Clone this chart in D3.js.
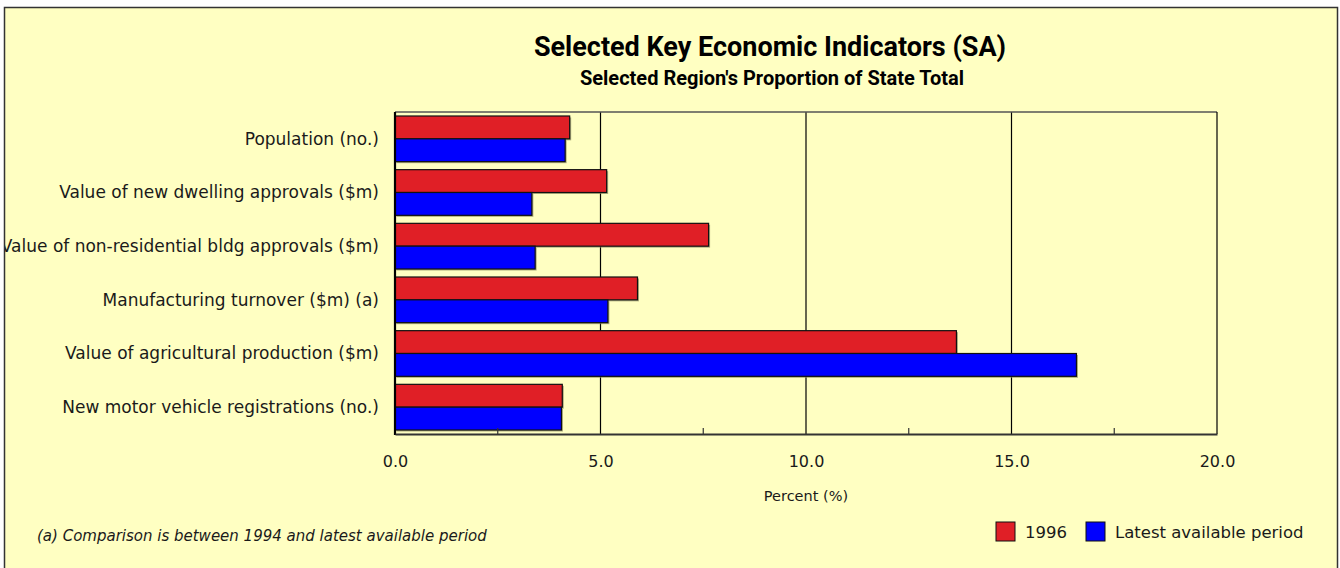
<!DOCTYPE html>
<html>
<head>
<meta charset="utf-8">
<script src="https://cdn.jsdelivr.net/npm/d3@7"></script>
<style>
  body { margin: 0; background: #fff; }
  text { font-family: "DejaVu Sans", Verdana, sans-serif; fill: #1a1a1a; }
  .title { font-family: Roboto, "Liberation Sans", Arial, sans-serif; font-weight: bold; fill: #000; }
</style>
</head>
<body>
<script>
var width = 1340;
var height = 568;

// data
var categories = [
  "Population (no.)",
  "Value of new dwelling approvals ($m)",
  "Value of non-residential bldg approvals ($m)",
  "Manufacturing turnover ($m) (a)",
  "Value of agricultural production ($m)",
  "New motor vehicle registrations (no.)"
];
var seriesNames = ["1996", "Latest available period"];
var values1996 = [4.25, 5.15, 7.63, 5.90, 13.66, 4.07];
var valuesLatest = [4.14, 3.33, 3.41, 5.18, 16.58, 4.05];
var xTicks = [0, 5, 10, 15, 20];
var minorTicks = [2.5, 7.5, 12.5, 17.5];
var colors = ["#e01f26", "#0000ff"];

var plot = { left: 395, right: 1217, top: 112, bottom: 434 };

var svg = d3.select("body").append("svg")
  .attr("width", width)
  .attr("height", height);

svg.append("clipPath").attr("id", "frameClip")
  .append("rect")
  .attr("x", 5).attr("y", 8)
  .attr("width", 1332).attr("height", 580);

// chart frame background
svg.append("rect")
  .attr("x", 4.5).attr("y", 7.5)
  .attr("width", 1333).attr("height", 580)
  .style("fill", "#ffffc2");

var chart = svg.append("g").attr("clip-path", "url(#frameClip)");

chart.append("text")
  .attr("class", "title")
  .attr("x", 770).attr("y", 56)
  .attr("text-anchor", "middle")
  .style("font-size", "27px")
  .text("Selected Key Economic Indicators (SA)");

chart.append("text")
  .attr("class", "title")
  .attr("x", 772).attr("y", 85)
  .attr("text-anchor", "middle")
  .style("font-size", "20px")
  .text("Selected Region's Proportion of State Total");

var x = d3.scaleLinear().domain([0, 20]).range([plot.left, plot.right]);
var y = d3.scaleBand().domain(categories).range([plot.top, plot.bottom]);
var inner = d3.scaleBand().domain(seriesNames).range([4, y.bandwidth() - 4]);

// grid lines
chart.selectAll(".grid")
  .data(xTicks.slice(1, -1))
.enter().append("line")
  .attr("x1", function (d) { return x(d); })
  .attr("x2", function (d) { return x(d); })
  .attr("y1", plot.top).attr("y2", plot.bottom)
  .style("stroke", "#000").style("stroke-width", 1.2);

// plot border top/right
chart.append("line")
  .attr("x1", plot.left).attr("x2", plot.right)
  .attr("y1", plot.top).attr("y2", plot.top)
  .style("stroke", "#555").style("stroke-width", 1.5);
chart.append("line")
  .attr("x1", plot.right).attr("x2", plot.right)
  .attr("y1", plot.top).attr("y2", plot.bottom)
  .style("stroke", "#000").style("stroke-width", 1.2);

var rows = categories.map(function (c, i) {
  return { name: c, vals: [values1996[i], valuesLatest[i]] };
});

var group = chart.selectAll(".cat")
  .data(rows)
.enter().append("g")
  .attr("class", "cat")
  .attr("transform", function (d) { return "translate(0," + y(d.name) + ")"; });

// soft shadow under each bar
group.selectAll(".shadow")
  .data(function (d) { return d.vals; })
.enter().append("rect")
  .attr("x", x(0) + 1.5)
  .attr("y", function (d, i) { return inner(seriesNames[i]) + 1.5; })
  .attr("width", function (d) { return x(d) - x(0); })
  .attr("height", inner.bandwidth())
  .style("fill", "#8a8a60").style("opacity", 0.7);

group.selectAll(".bar")
  .data(function (d) { return d.vals; })
.enter().append("rect")
  .attr("class", "bar")
  .attr("x", x(0))
  .attr("y", function (d, i) { return inner(seriesNames[i]); })
  .attr("width", function (d) { return x(d) - x(0); })
  .attr("height", inner.bandwidth())
  .style("fill", function (d, i) { return colors[i]; })
  .style("stroke", "#111").style("stroke-width", 1.2);

group.append("text")
  .attr("x", 379)
  .attr("y", y.bandwidth() / 2 + 6)
  .attr("text-anchor", "end")
  .style("font-size", "17px")
  .text(function (d) { return d.name; });

// left axis line
chart.append("line")
  .attr("x1", plot.left).attr("x2", plot.left)
  .attr("y1", plot.top).attr("y2", plot.bottom + 1)
  .style("stroke", "#000").style("stroke-width", 2.2);

// bottom axis
var xAxis = d3.axisBottom(x)
  .tickValues(xTicks)
  .tickSize(0)
  .tickPadding(22)
  .tickFormat(d3.format(".1f"));

var axisG = chart.append("g")
  .attr("transform", "translate(0," + plot.bottom + ")")
  .call(xAxis);
axisG.select(".domain").style("stroke", "#333").style("stroke-width", 2);
axisG.selectAll("text")
  .style("font-family", "DejaVu Sans, Verdana, sans-serif")
  .style("font-size", "16px").style("fill", "#1a1a1a");

chart.selectAll(".minor")
  .data(minorTicks)
.enter().append("line")
  .attr("x1", function (d) { return x(d); })
  .attr("x2", function (d) { return x(d); })
  .attr("y1", plot.bottom - 6).attr("y2", plot.bottom)
  .style("stroke", "#333").style("stroke-width", 1.2);

chart.append("text")
  .attr("x", x(10)).attr("y", 501)
  .attr("text-anchor", "middle")
  .style("font-size", "14.5px")
  .text("Percent (%)");

chart.append("text")
  .attr("x", 37).attr("y", 541)
  .style("font-size", "15px").style("font-style", "italic")
  .text("(a) Comparison is between 1994 and latest available period");

// legend
var legendX = [996, 1086];
var legend = chart.selectAll(".legend")
  .data(seriesNames)
.enter().append("g")
  .attr("transform", function (d, i) { return "translate(" + legendX[i] + ",522)"; });
legend.append("rect")
  .attr("width", 19).attr("height", 19)
  .style("fill", function (d, i) { return colors[i]; })
  .style("stroke", "#111").style("stroke-width", 1);
legend.append("text")
  .attr("x", 29).attr("y", 16)
  .style("font-size", "16.5px")
  .text(function (d) { return d; });

// frame border on top
svg.append("rect")
  .attr("x", 4.5).attr("y", 7.5)
  .attr("width", 1333).attr("height", 580)
  .style("fill", "none")
  .style("stroke", "#333")
  .style("stroke-width", 1.5);
</script>
</body>
</html>
